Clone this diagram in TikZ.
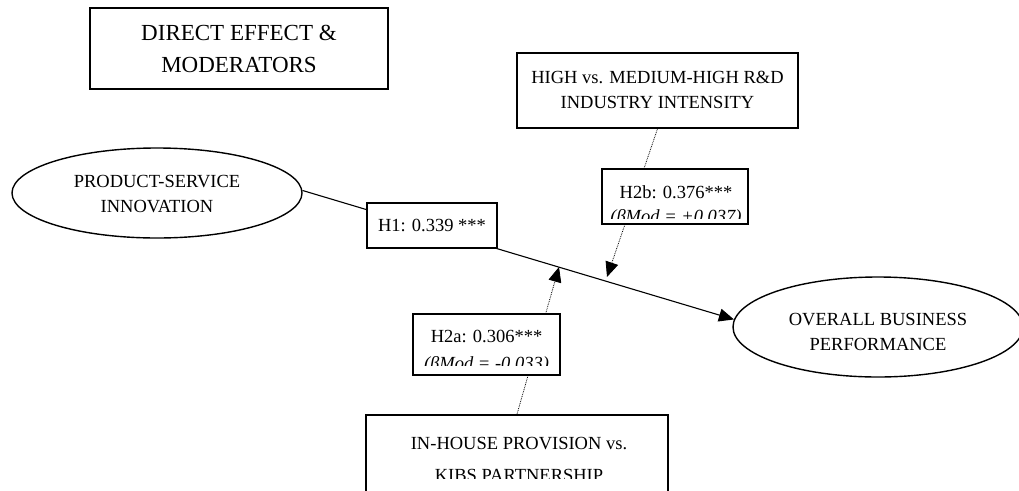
\documentclass[tikz,border=0pt]{standalone}
\usepackage{fontspec}
\setmainfont{Liberation Serif}
\usetikzlibrary{shapes.geometric,arrows.meta,backgrounds}
\newcommand{\twoline}[2]{\begin{tabular}{@{}c@{}}#1\\#2\end{tabular}}
\newcommand{\lowered}[2]{\raisebox{-#1}[\height][\depth]{#2}}
\begin{document}
\begin{tikzpicture}[x=1pt,y=-1pt,
  box/.style={draw,line width=1.7pt,fill=white,inner sep=0pt,rectangle},
  oval/.style={ellipse,draw,line width=1.4pt,fill=white,inner sep=0pt},
  txt/.style={font=\fontsize{18.5}{25}\selectfont},
  itxt/.style={font=\fontsize{18.5}{25}\selectfont\itshape},
  link/.style={line width=1.1pt},
  moddot/.style={line width=0.8pt,densely dotted},
  tipbig/.style={-{Triangle[length=15pt,width=13pt]}}
]
\useasboundingbox (0,0) rectangle (1019,490);
\clip (0,0) rectangle (1019,490);

% title
\node[box,minimum width=298pt,minimum height=81pt,font=\fontsize{23}{32}\selectfont]
  (title) at (239,48.5) {\lowered{2pt}{\twoline{DIRECT EFFECT \&}{MODERATORS}}};

% constructs
\node[oval,txt,minimum width=290pt,minimum height=90pt] (psi) at (157,193)
  {\lowered{1.5pt}{\twoline{PRODUCT-SERVICE}{INNOVATION}}};
\node[oval,txt,minimum width=290pt,minimum height=100pt] (obp) at (878,327)
  {\lowered{5.5pt}{\twoline{OVERALL BUSINESS}{PERFORMANCE}}};

% moderators
\node[box,txt,minimum width=281pt,minimum height=75pt] (high) at (657.5,90.5)
  {\twoline{HIGH vs. MEDIUM-HIGH R\&D}{INDUSTRY INTENSITY}};
\node[box,minimum width=302pt,minimum height=150pt] (inhouse) at (517,490) {};
\begin{scope}
  \clip (370,418) rectangle (666,478);
  \node[txt,anchor=base] (inhouse1) at (519,449) {IN-HOUSE PROVISION vs.};
  \node[txt,anchor=base] (inhouse2) at (519,481) {KIBS PARTNERSHIP};
\end{scope}

% path coefficient boxes
\node[box,txt,minimum width=130pt,minimum height=45pt] (h1) at (432,225.5) {H1: 0.339 ***};
\node[box,minimum width=146pt,minimum height=55pt] (h2b) at (675,196.5) {};
\node[box,minimum width=147pt,minimum height=61pt] (h2a) at (486.5,344.5) {};

\begin{scope}
  \clip (604,171) rectangle (746,218.5);
  \node[txt,anchor=base] (h2bl1) at (676,198.5) {H2b: 0.376***};
  \node[itxt,anchor=base] (h2bl2) at (676,222) {(βMod = +0.037)};
\end{scope}
\begin{scope}
  \clip (415,316) rectangle (558,365.5);
  \node[txt,anchor=base] (h2al1) at (486.5,342) {H2a: 0.306***};
  \node[itxt,anchor=base] (h2al2) at (486.5,369) {(βMod = -0.033)};
\end{scope}

\coordinate (t2b) at (607,277);
\coordinate (t2a) at (559,267);

\begin{scope}[on background layer]
  \fill[white] (0,0) rectangle (1019,490);
  \draw[link,tipbig] (psi.1) -- (obp.177);
  \draw[moddot,tipbig] (high.south) -- (t2b);
  \draw[moddot,tipbig] (inhouse.north) -- (t2a);
\end{scope}
\end{tikzpicture}
\end{document}
